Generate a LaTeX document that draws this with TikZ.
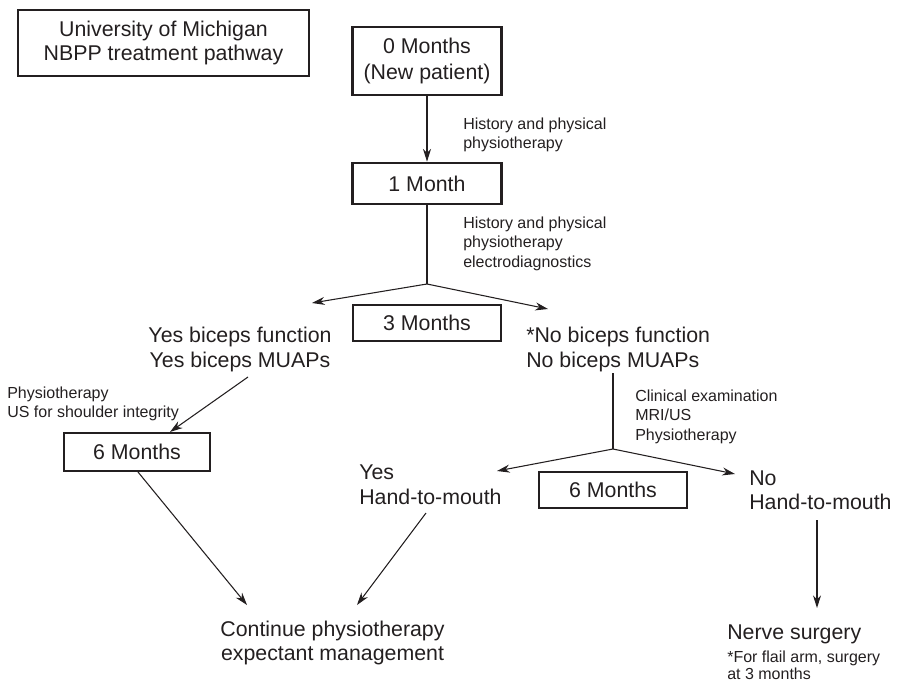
\documentclass[tikz,border=0pt]{standalone}
\usepackage{fontspec}
\setmainfont{Liberation Sans}
\usetikzlibrary{arrows.meta}
\definecolor{ink}{HTML}{231F20}
\newcommand{\bigf}{\fontsize{16}{18.5}\selectfont}
\newcommand{\smallf}{\fontsize{12}{14.6}\selectfont}
\begin{document}
\begin{tikzpicture}[x=0.75pt,y=-0.75pt,
  every node/.style={text=ink},
  box/.style={draw=ink, line width=1.8pt, inner sep=0pt, align=center, font=\bigf},
  bigtxt/.style={inner sep=0pt, font=\bigf},
  smalltxt/.style={inner sep=0pt, font=\smallf, align=left, anchor=north west},
  arr/.style={draw=ink, line width=0.8pt, -{Stealth[length=9.5pt,width=6pt,inset=3pt]}},
  ln/.style={draw=ink, line width=0.8pt}]
\useasboundingbox (0,0) rectangle (898,681);

% boxes
\node[box, minimum width=218pt, minimum height=49.5pt, font=\fontsize{16}{17.3}\selectfont] (title) at (163.5,43) {University of Michigan\\NBPP treatment pathway};
\node[box, minimum width=111.5pt, minimum height=51pt, font=\fontsize{16}{20.2}\selectfont] (m0) at (427,61) {0 Months\\(New patient)};
\node[box, minimum width=111.5pt, minimum height=31pt] (m1) at (427,183.5) {1 Month};
\node[box, minimum width=111pt, minimum height=27pt] (m3) at (427,323) {3 Months};
\node[box, minimum width=109.5pt, minimum height=28.5pt] (m6l) at (137,452) {6 Months};
\node[box, minimum width=111pt, minimum height=27pt] (m6r) at (613,490) {6 Months};

% small labels
\node[smalltxt] (lab1) at (463,117.5) {History and physical\\physiotherapy};
\node[smalltxt] (lab2) at (463,216.5) {History and physical\\physiotherapy\\electrodiagnostics};
\node[smalltxt] (clin) at (635,389.5) {Clinical examination\\MRI/US\\Physiotherapy};
\node[smalltxt] (phus) at (7,386.5) {Physiotherapy\\US for shoulder integrity};

% large labels
\node[bigtxt, anchor=north, align=center] (yb) at (240,326.7) {Yes biceps function\\Yes biceps MUAPs};
\node[bigtxt, anchor=north west, align=left] (nb) at (526,326.7) {*No biceps function\\No biceps MUAPs};
\node[bigtxt, anchor=north west, align=left] (yh) at (359,465) {Yes\\Hand-to-mouth};
\node[bigtxt, anchor=north west, align=left, font=\fontsize{16}{18}\selectfont] (nh) at (749,471) {No\\Hand-to-mouth};
\node[bigtxt, anchor=north, align=center, font=\fontsize{16}{18}\selectfont] (cont) at (332.5,621) {Continue physiotherapy\\expectant management};
\node[bigtxt, anchor=north west] (ns) at (727,625) {Nerve surgery};
\node[smalltxt, font=\fontsize{12}{12.9}\selectfont] (fn) at (727,650.5) {*For flail arm, surgery\\at 3 months};

% coordinates
\coordinate (b1) at (427,284);
\coordinate (t1l) at (312,303);
\coordinate (t1r) at (548,309);
\coordinate (nbb) at (613,373);
\coordinate (b2) at (613,449);
\coordinate (t2l) at (497,471);
\coordinate (t2r) at (735,474);
\coordinate (ybb) at (248,377);
\coordinate (m6t) at (170,432);
\coordinate (m6b) at (138,472);
\coordinate (c1) at (247,605);
\coordinate (yhb) at (426,513);
\coordinate (c2) at (357,605);
\coordinate (nhb) at (817,520);
\coordinate (nst) at (817,608);

% connectors
\draw[arr] (m0.south) -- (m1.north);
\draw[ln] (m1.south) -- (b1);
\draw[arr] (b1) -- (t1l);
\draw[arr] (b1) -- (t1r);
\draw[ln] (nbb) -- (b2);
\draw[arr] (b2) -- (t2l);
\draw[arr] (b2) -- (t2r);
\draw[arr] (ybb) -- (m6t);
\draw[arr] (m6b) -- (c1);
\draw[arr] (yhb) -- (c2);
\draw[arr] (nhb) -- (nst);
\end{tikzpicture}
\end{document}
